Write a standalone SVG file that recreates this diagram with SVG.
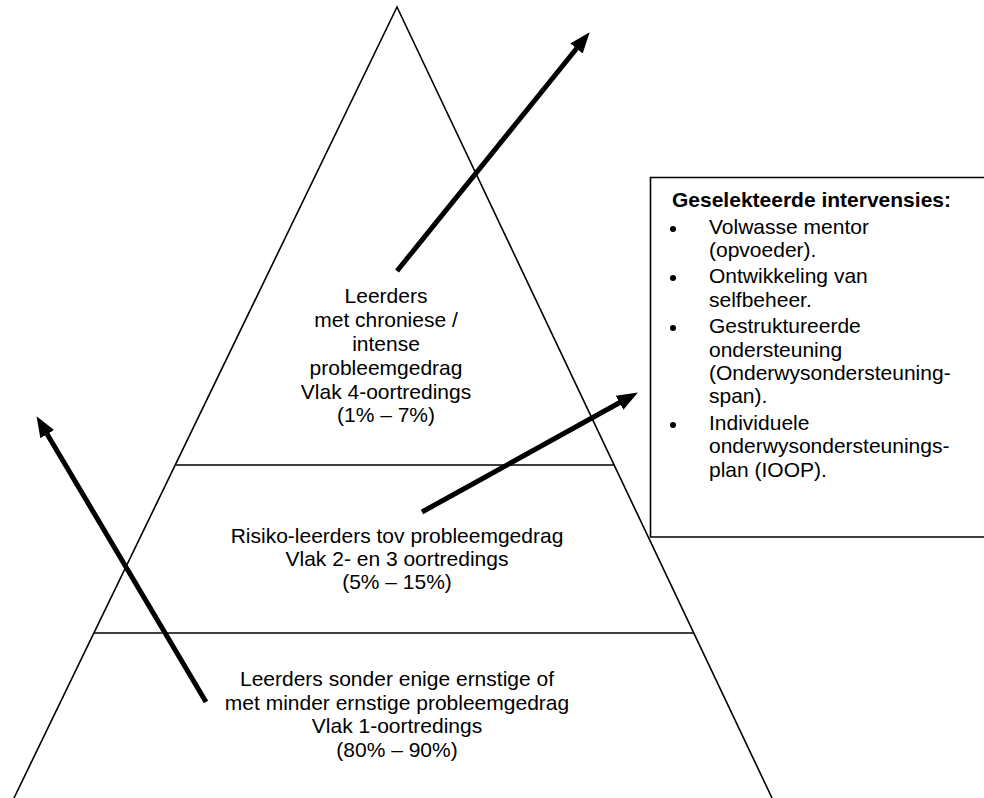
<svg xmlns="http://www.w3.org/2000/svg" width="984" height="798" viewBox="0 0 984 798">
<style>
.t{font-family:"Liberation Sans",Arial,sans-serif;font-size:21px;fill:#000}
.c{text-anchor:middle}
.b{font-weight:bold}
.ln{stroke:#000;stroke-width:1.6;fill:none}
.ar{stroke:#000;stroke-width:5;fill:none}
.dot{fill:#000}
</style>
<defs>
<marker id="ah" markerUnits="userSpaceOnUse" viewBox="0 -9 22 18" refX="5" refY="0" markerWidth="22" markerHeight="18" orient="auto">
<path d="M0,-8 L21,0 L0,8 Z" fill="#000"/>
</marker>
</defs>
<rect width="984" height="798" fill="#fff"/>
<g id="pyramid">
<path class="ln" d="M14,798 L397,7 L772,798"/>
<line class="ln" x1="176" y1="465" x2="614" y2="465"/>
<line class="ln" x1="94" y1="633" x2="694" y2="633"/>
</g>
<g id="tier-top">
<text class="t c" x="386" y="302.5">Leerders</text>
<text class="t c" x="386" y="326.5">met chroniese /</text>
<text class="t c" x="386" y="350.5">intense</text>
<text class="t c" x="386" y="374.5">probleemgedrag</text>
<text class="t c" x="386" y="398.5">Vlak 4-oortredings</text>
<text class="t c" x="386" y="422">(1% – 7%)</text>
</g>
<g id="tier-middle">
<text class="t c" x="397" y="543">Risiko-leerders tov probleemgedrag</text>
<text class="t c" x="397" y="566">Vlak 2- en 3 oortredings</text>
<text class="t c" x="397" y="589">(5% – 15%)</text>
</g>
<g id="tier-bottom">
<text class="t c" x="397" y="686">Leerders sonder enige ernstige of</text>
<text class="t c" x="397" y="709.5">met minder ernstige probleemgedrag</text>
<text class="t c" x="397" y="733">Vlak 1-oortredings</text>
<text class="t c" x="397" y="756.5">(80% – 90%)</text>
</g>
<g id="interventions-box">
<path class="ln" d="M986,177.5 L650.5,177.5 L650.5,537 L986,537"/>
<text class="t b" x="672" y="207">Geselekteerde intervensies:</text>
<circle class="dot" cx="673" cy="229" r="3"/>
<text class="t" x="709" y="234">Volwasse mentor</text>
<text class="t" x="709" y="257">(opvoeder).</text>
<circle class="dot" cx="673" cy="278" r="3"/>
<text class="t" x="709" y="283">Ontwikkeling van</text>
<text class="t" x="709" y="306.5">selfbeheer.</text>
<circle class="dot" cx="673" cy="328" r="3"/>
<text class="t" x="709" y="333">Gestruktureerde</text>
<text class="t" x="709" y="356.5">ondersteuning</text>
<text class="t" x="709" y="380">(Onderwysondersteuning-</text>
<text class="t" x="709" y="403">span).</text>
<circle class="dot" cx="673" cy="425" r="3"/>
<text class="t" x="709" y="430">Individuele</text>
<text class="t" x="709" y="453">onderwysondersteunings-</text>
<text class="t" x="709" y="477">plan (IOOP).</text>
</g>
<g id="connectors">
<line class="ar" x1="397" y1="271" x2="579.6" y2="44.7" marker-end="url(#ah)"/>
<line class="ar" x1="206" y1="702" x2="44.7" y2="429.9" marker-end="url(#ah)"/>
<line class="ar" x1="422" y1="512" x2="623.9" y2="400.3" marker-end="url(#ah)"/>
</g>
</svg>
